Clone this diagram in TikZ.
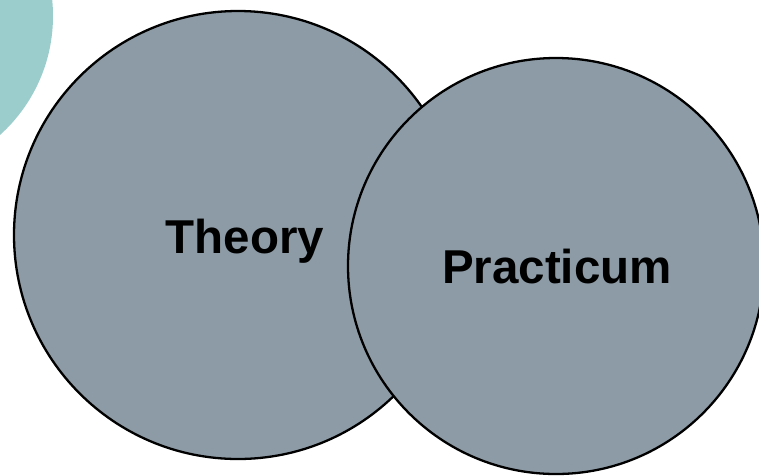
\documentclass[tikz,border=0pt]{standalone}
\usepackage{fontspec}
\setmainfont{Liberation Sans}
\definecolor{teal1}{RGB}{155,205,205}
\definecolor{grayfill}{RGB}{141,155,166}
\begin{document}
\begin{tikzpicture}[x=1pt,y=-1pt,
  bigcircle/.style={circle,draw=black,line width=2.3pt,fill=grayfill,inner sep=0pt},
  label/.style={anchor=base,font=\fontsize{47.5}{56}\selectfont\bfseries,text=black,inner sep=0pt}]
\useasboundingbox (0,0) rectangle (759,475);
\begin{scope}
\clip (0,0) rectangle (759,475);
\node[circle,fill=teal1,minimum size=320pt,inner sep=0pt] (bg) at (-107,16) {};
\node[bigcircle,minimum size=448pt] (theory) at (238,235) {};
\node[bigcircle,minimum size=416pt] (practicum) at (556,266) {};
\end{scope}
\node[label] (t1) at (245,253) {Theory};
\node[label] (t2) at (557,283) {Practicum};
\end{tikzpicture}
\end{document}
